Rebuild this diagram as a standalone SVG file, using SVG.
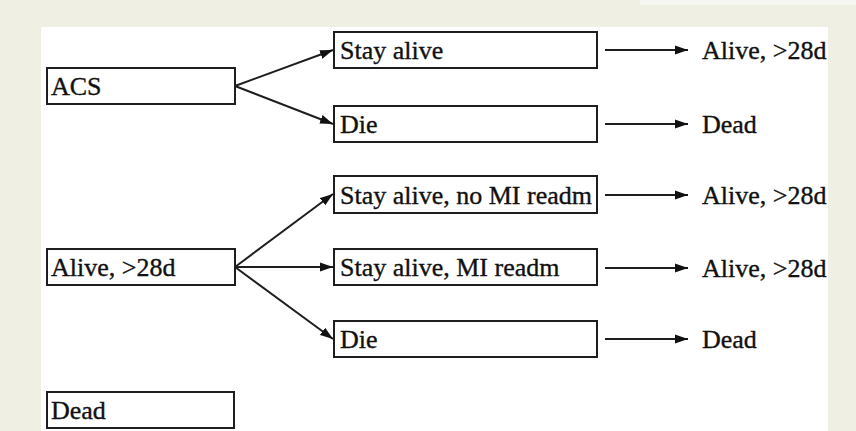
<svg xmlns="http://www.w3.org/2000/svg" width="856" height="431" viewBox="0 0 856 431">
<defs>
<style>
.box{fill:#fff;stroke:#1e1e1e;stroke-width:2}
.t{font-family:'Liberation Serif','Times New Roman','DejaVu Serif',serif;font-size:26px;fill:#111;stroke:#111;stroke-width:0.35}
.c{stroke:#1e1e1e;stroke-width:2;fill:none;marker-end:url(#ah)}
</style>
<marker id="ah" markerUnits="userSpaceOnUse" markerWidth="14" markerHeight="10" refX="13" refY="5" orient="auto">
<path d="M0,0.5 L13,5 L0,9.5 Z" fill="#111"/>
</marker>
</defs>
<rect x="0" y="0" width="856" height="431" fill="#EFEFE3"/>
<rect x="640" y="0" width="216" height="5" fill="#F6F6F2"/>
<rect x="41" y="27" width="787" height="404" fill="#fff"/>
<g id="connectors">
<path class="c" d="M235,86 L333,50"/>
<path class="c" d="M235,86 L333,124"/>
<path class="c" d="M235,267 L333,194"/>
<path class="c" d="M235,267 L333,267"/>
<path class="c" d="M235,267 L333,339"/>
<path class="c" d="M605,50 L688,50"/>
<path class="c" d="M605,124 L688,124"/>
<path class="c" d="M605,195 L688,195"/>
<path class="c" d="M605,268 L688,268"/>
<path class="c" d="M605,339 L688,339"/>
</g>
<g font-family="Liberation Serif, Times New Roman, serif">
<g id="acs"><rect class="box" x="47" y="68" width="188" height="36"/><text class="t" x="51" y="95">ACS</text></g>
<g id="alive"><rect class="box" x="47" y="249" width="188" height="36"/><text class="t" x="51" y="276">Alive, &gt;28d</text></g>
<g id="dead"><rect class="box" x="47" y="392" width="187" height="36"/><text class="t" x="51" y="419">Dead</text></g>
<g id="stay1"><rect class="box" x="334" y="32" width="263" height="36"/><text class="t" x="340" y="59">Stay alive</text></g>
<g id="die1"><rect class="box" x="334" y="106" width="263" height="36"/><text class="t" x="340" y="133">Die</text></g>
<g id="stay2"><rect class="box" x="334" y="176" width="263" height="37"/><text class="t" x="340" y="204">Stay alive, no MI readm</text></g>
<g id="stay3"><rect class="box" x="334" y="249" width="263" height="36"/><text class="t" x="340" y="276">Stay alive, MI readm</text></g>
<g id="die2"><rect class="box" x="334" y="321" width="263" height="36"/><text class="t" x="340" y="348">Die</text></g>
<g id="out1"><text class="t" x="702" y="59">Alive, &gt;28d</text></g>
<g id="out2"><text class="t" x="702" y="133">Dead</text></g>
<g id="out3"><text class="t" x="702" y="204">Alive, &gt;28d</text></g>
<g id="out4"><text class="t" x="702" y="277">Alive, &gt;28d</text></g>
<g id="out5"><text class="t" x="702" y="348">Dead</text></g>
</g>
</svg>
